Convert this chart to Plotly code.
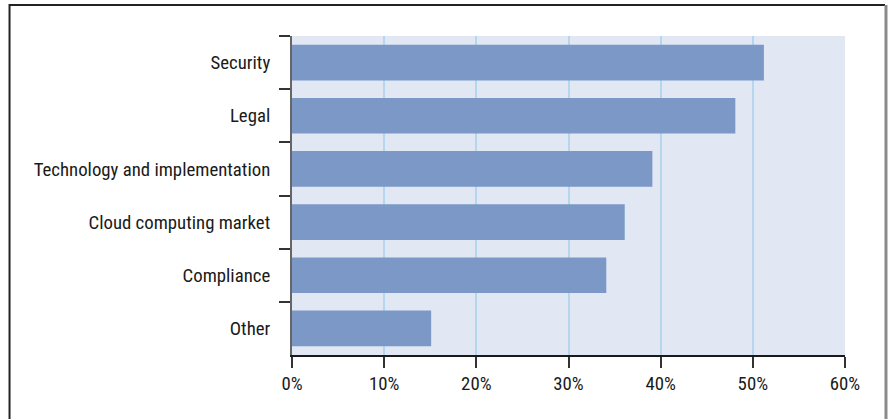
import plotly.graph_objects as go

# Share of respondents naming each concern
categories = ["Security", "Legal", "Technology and implementation",
              "Cloud computing market", "Compliance", "Other"]
shares = [51.2, 48.1, 39.1, 36.1, 34.1, 15.1]
tick_vals = [0, 10, 20, 30, 40, 50, 60]
tick_text = ["0%", "10%", "20%", "30%", "40%", "50%", "60%"]

FONT = "Roboto Condensed, Liberation Sans Narrow, sans-serif"

fig = go.Figure(
    go.Bar(
        x=shares,
        y=categories,
        orientation="h",
        marker=dict(color="#7b98c7", line=dict(width=0)),
        width=0.67,
        hoverinfo="x+y",
    )
)

fig.update_layout(
    width=888,
    height=419,
    margin=dict(l=292, r=43, t=36, b=64),
    paper_bgcolor="white",
    plot_bgcolor="#e1e8f3",
    showlegend=False,
    font=dict(family=FONT, size=18.8, color="#1a1a1a"),
    xaxis=dict(
        range=[0, 60],
        tickvals=tick_vals,
        ticktext=tick_text,
        showgrid=True,
        gridcolor="#b4d6ee",
        gridwidth=1.5,
        zeroline=False,
        showline=True,
        linecolor="#1a1a1a",
        linewidth=1.5,
        ticks="outside",
        ticklen=11,
        tickwidth=1.5,
        tickcolor="#333333",
        fixedrange=True,
    ),
    yaxis=dict(
        categoryorder="array",
        categoryarray=categories,
        autorange="reversed",
        showgrid=False,
        zeroline=False,
        showline=True,
        linecolor="#666666",
        linewidth=2,
        ticks="outside",
        tickson="boundaries",
        ticklen=11,
        tickwidth=1.5,
        tickcolor="#333333",
        ticklabelstandoff=16,
        fixedrange=True,
    ),
)

# Outer frame around the figure (open at the bottom)
fig.add_shape(type="path",
              path="M -0.5108,-0.5 L -0.5108,1.0972 L 1.0723,1.0972",
              xref="paper", yref="paper",
              line=dict(color="#222222", width=2), layer="above")
fig.add_shape(type="line", x0=1.0741, x1=1.0741, y0=-0.5, y1=1.0972,
              xref="paper", yref="paper",
              line=dict(color="#8a8a8a", width=3), layer="above")

fig.write_html("out.html")
